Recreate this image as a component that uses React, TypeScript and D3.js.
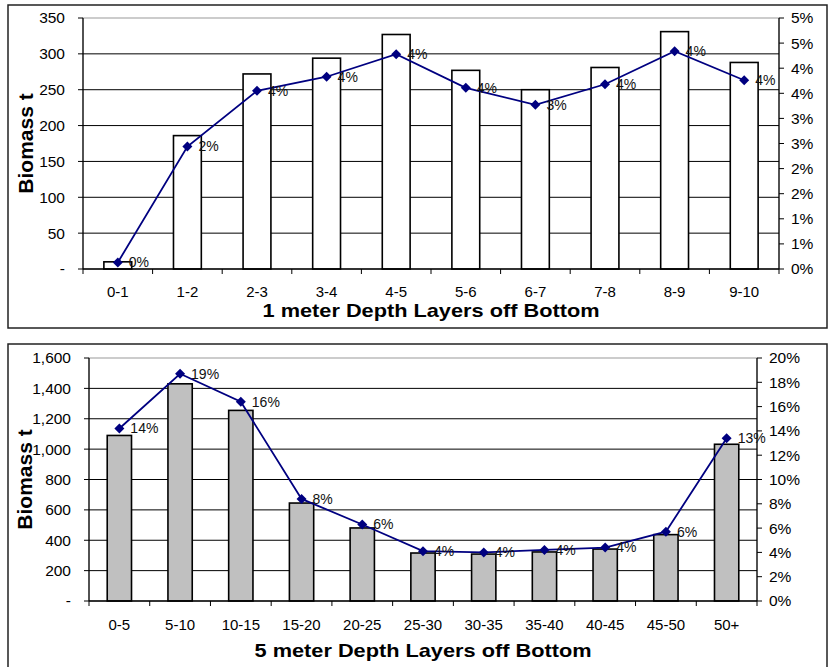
import React from 'react';
import * as d3 from 'd3';

// 1 meter layers
const oneMeterLayers = ['0-1', '1-2', '2-3', '3-4', '4-5', '5-6', '6-7', '7-8', '8-9', '9-10'];
const oneMeterBiomass = [10, 186, 272, 294, 327, 277, 250, 281, 331, 288];
const oneMeterPct = [0.13, 2.44, 3.55, 3.83, 4.28, 3.61, 3.27, 3.68, 4.34, 3.76];
const oneMeterLeftTicks = [0, 50, 100, 150, 200, 250, 300, 350];
const oneMeterRightTicks = [0, 0.5, 1, 1.5, 2, 2.5, 3, 3.5, 4, 4.5, 5];
const oneMeterRightLabels = ['0%', '1%', '1%', '2%', '2%', '3%', '3%', '4%', '4%', '5%', '5%'];

// 5 meter layers
const fiveMeterLayers = ['0-5', '5-10', '10-15', '15-20', '20-25', '25-30', '30-35', '35-40', '40-45', '45-50', '50+'];
const fiveMeterBiomass = [1090, 1430, 1255, 645, 481, 316, 309, 323, 342, 437, 1032];
const fiveMeterPct = [14.2, 18.7, 16.4, 8.4, 6.3, 4.1, 4.0, 4.2, 4.4, 5.7, 13.4];
const fiveMeterLeftTicks = [0, 200, 400, 600, 800, 1000, 1200, 1400, 1600];
const fiveMeterRightTicks = [0, 2, 4, 6, 8, 10, 12, 14, 16, 18, 20];
const fiveMeterRightLabels = ['0%', '2%', '4%', '6%', '8%', '10%', '12%', '14%', '16%', '18%', '20%'];

const FONT = 'Arial, "Liberation Sans", Helvetica, sans-serif';
const LINE = '#000080';

interface PanelProps {
  frame: { x: number; y: number; w: number; h: number };
  plot: { left: number; right: number; top: number; bottom: number };
  categories: string[];
  biomass: number[];
  pct: number[];
  leftTicks: number[];
  rightTicks: number[];
  rightLabels: string[];
  barFill: string;
  xTitle: string;
  labelY: number;
  titleY: number;
  yTitleX: number;
}

function Panel(p: PanelProps) {
  const { plot } = p;
  const x = d3.scaleBand<string>().domain(p.categories).range([plot.left, plot.right]).padding(0);
  const yL = d3.scaleLinear().domain([0, p.leftTicks[p.leftTicks.length - 1]]).range([plot.bottom, plot.top]);
  const yR = d3.scaleLinear().domain([0, p.rightTicks[p.rightTicks.length - 1]]).range([plot.bottom, plot.top]);
  const bw = x.bandwidth() * 0.4;
  const cx = (c: string) => (x(c) as number) + x.bandwidth() / 2;
  const fmtL = d3.format(',');
  const line = d3.line<number>()
    .x((_, i) => cx(p.categories[i]))
    .y(d => yR(d));
  const diamond = d3.symbol(d3.symbolSquare, 50)() as string;
  const boundaries = [...p.categories.map(c => x(c) as number), plot.right];

  return (
    <g>
      <rect x={p.frame.x} y={p.frame.y} width={p.frame.w} height={p.frame.h}
        fill="white" stroke="#222" strokeWidth={1.5} />
      {/* plot area border (gray) */}
      <rect x={plot.left} y={plot.top} width={plot.right - plot.left} height={plot.bottom - plot.top}
        fill="none" stroke="#999" strokeWidth={1} />
      {/* gridlines */}
      {p.leftTicks.slice(1, -1).map(t => (
        <line key={'g' + t} x1={plot.left} x2={plot.right} y1={yL(t)} y2={yL(t)} stroke="#000" strokeWidth={1} />
      ))}
      {/* bars */}
      {p.biomass.map((v, i) => (
        <rect key={'b' + i} x={cx(p.categories[i]) - bw / 2} y={yL(v)} width={bw} height={yL(0) - yL(v)}
          fill={p.barFill} stroke="#000" strokeWidth={1.6} />
      ))}
      {/* left axis */}
      <line x1={plot.left} x2={plot.left} y1={plot.top} y2={plot.bottom} stroke="#000" strokeWidth={1.2} />
      {p.leftTicks.map(t => (
        <g key={'l' + t}>
          <line x1={plot.left - 5} x2={plot.left} y1={yL(t)} y2={yL(t)} stroke="#000" />
          <text x={plot.left - 18} y={yL(t)} dy="0.35em" textAnchor="end" fontSize={15.5} fontFamily={FONT}>
            {t === 0 ? '-' : fmtL(t)}
          </text>
        </g>
      ))}
      {/* right axis */}
      <line x1={plot.right} x2={plot.right} y1={plot.top} y2={plot.bottom} stroke="#000" strokeWidth={1.2} />
      {p.rightTicks.map((t, i) => (
        <g key={'r' + i}>
          <line x1={plot.right} x2={plot.right + 5} y1={yR(t)} y2={yR(t)} stroke="#000" />
          <text x={plot.right + 12} y={yR(t)} dy="0.35em" textAnchor="start" fontSize={15.5} fontFamily={FONT}>
            {p.rightLabels[i]}
          </text>
        </g>
      ))}
      {/* bottom axis */}
      <line x1={plot.left} x2={plot.right} y1={plot.bottom} y2={plot.bottom} stroke="#000" strokeWidth={1.5} />
      {boundaries.map((b, i) => (
        <line key={'t' + i} x1={b} x2={b} y1={plot.bottom} y2={plot.bottom + 5} stroke="#000" />
      ))}
      {p.categories.map(c => (
        <text key={'c' + c} x={cx(c)} y={p.labelY} textAnchor="middle" fontSize={15} fontFamily={FONT}>{c}</text>
      ))}
      {/* percent line */}
      <path d={line(p.pct) as string} fill="none" stroke={LINE} strokeWidth={1.8} />
      {p.pct.map((v, i) => (
        <path key={'d' + i} d={diamond} fill={LINE}
          transform={`translate(${cx(p.categories[i])},${yR(v)}) rotate(45)`} />
      ))}
      {p.pct.map((v, i) => (
        <text key={'p' + i} x={cx(p.categories[i]) + 11} y={yR(v)} dy="0.35em" fontSize={14} fontFamily={FONT} fill="#111">
          {Math.round(v) + '%'}
        </text>
      ))}
      {/* titles */}
      <text x={(plot.left + plot.right) / 2} y={p.titleY} textAnchor="middle" fontSize={18.5} fontWeight="bold"
        fontFamily={FONT} textLength={337} lengthAdjust="spacingAndGlyphs">{p.xTitle}</text>
      <text transform={`translate(${p.yTitleX},${(plot.top + plot.bottom) / 2}) rotate(-90)`} textAnchor="middle"
        dy="0.35em" fontSize={21} fontWeight="bold" fontFamily={FONT}>Biomass t</text>
    </g>
  );
}

export default function App() {
  return (
    <svg width={830} height={667} style={{ position: 'absolute', left: 0, top: 0, background: 'white' }}>
      <Panel
        frame={{ x: 8, y: 5, w: 819, h: 323 }}
        plot={{ left: 83, right: 779, top: 18, bottom: 269 }}
        categories={oneMeterLayers}
        biomass={oneMeterBiomass}
        pct={oneMeterPct}
        leftTicks={oneMeterLeftTicks}
        rightTicks={oneMeterRightTicks}
        rightLabels={oneMeterRightLabels}
        barFill="#fff"
        xTitle="1 meter Depth Layers off Bottom"
        labelY={297}
        titleY={317}
        yTitleX={26}
      />
      <Panel
        frame={{ x: 8, y: 344, w: 819, h: 335 }}
        plot={{ left: 89, right: 757, top: 358, bottom: 601 }}
        categories={fiveMeterLayers}
        biomass={fiveMeterBiomass}
        pct={fiveMeterPct}
        leftTicks={fiveMeterLeftTicks}
        rightTicks={fiveMeterRightTicks}
        rightLabels={fiveMeterRightLabels}
        barFill="#c0c0c0"
        xTitle="5 meter Depth Layers off Bottom"
        labelY={630}
        titleY={656.5}
        yTitleX={25}
      />
    </svg>
  );
}
